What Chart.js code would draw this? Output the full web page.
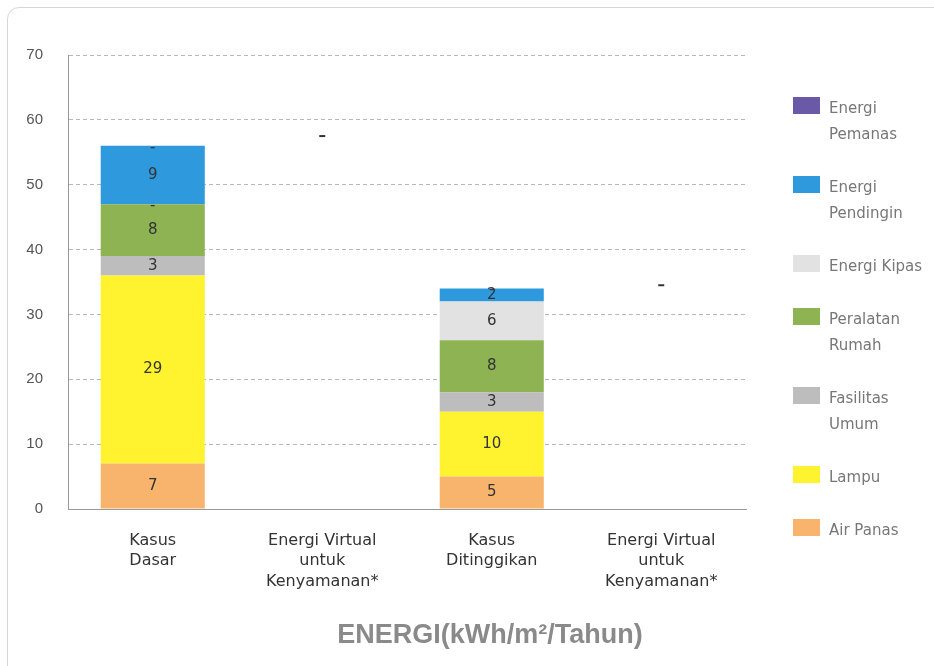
<!DOCTYPE html>
<html>
<head>
<meta charset="utf-8">
<script src="https://cdn.jsdelivr.net/npm/chart.js@4.4.1/dist/chart.umd.min.js"></script>
<style>
  html, body { margin: 0; padding: 0; background: #fff; }
  #wrap { position: relative; width: 934px; height: 666px; overflow: hidden; }
  #frame { position: absolute; left: 7px; top: 7px; width: 980px; height: 720px; border: 1px solid #d6d6d6; border-radius: 12px; }
  #chart-box { position: absolute; left: 0; top: 0; width: 934px; height: 666px; }
  #legend { position: absolute; left: 793px; top: 95px; font-family: "DejaVu Sans", sans-serif; font-size: 15px; color: #777; }
  .item { display: flex; align-items: flex-start; margin-bottom: 27px; }
  .swatch { width: 27px; height: 17px; margin-top: 2px; margin-right: 9px; flex: none; }
  .label { width: 105px; line-height: 26px; }
  #axis-title { position: absolute; left: 0; top: 618px; width: 980px; text-align: center;
    font-family: "Liberation Sans", Arial, sans-serif; font-weight: bold; font-size: 27px; line-height: 32px; color: #8a8a8a; }
</style>
</head>
<body>
<div id="wrap">
  <div id="frame"></div>
  <div id="chart-box"><canvas id="chart"></canvas></div>
  <div id="legend"></div>
  <div id="axis-title">ENERGI(kWh/m²/Tahun)</div>
</div>
<script>
const categories = [
    ['Kasus', 'Dasar'],
    ['Energi Virtual', 'untuk', 'Kenyamanan*'],
    ['Kasus', 'Ditinggikan'],
    ['Energi Virtual', 'untuk', 'Kenyamanan*']
];

// stacked from the bottom up
const seriesNames = ['Air Panas', 'Lampu', 'Fasilitas Umum', 'Peralatan Rumah', 'Energi Kipas', 'Energi Pendingin', 'Energi Pemanas'];
const seriesColors = ['#f8b36c', '#fff22e', '#bdbdbd', '#8db353', '#e2e2e2', '#2f99de', '#6a59a7'];

const airPanas = [7, null, 5, null];
const lampu = [29, null, 10, null];
const fasilitasUmum = [3, null, 3, null];
const peralatanRumah = [8, null, 8, null];
const energiKipas = [0, null, 6, null];
const energiPendingin = [9, null, 2, null];
const energiPemanas = [0, null, 0, null];

// the "-" marks above the virtual energy columns
const virtualMarks = [null, 57.5, null, 34.5];

const yMin = 0;
const yMax = 70;
const yStep = 10;

const seriesValues = [airPanas, lampu, fasilitasUmum, peralatanRumah, energiKipas, energiPendingin, energiPemanas];

// HTML legend, top to bottom is the reverse of the stack
const legendEl = document.getElementById('legend');
for (let i = seriesNames.length - 1; i >= 0; i--) {
    const item = document.createElement('div');
    item.className = 'item';
    const sw = document.createElement('div');
    sw.className = 'swatch';
    sw.style.background = seriesColors[i];
    const lab = document.createElement('div');
    lab.className = 'label';
    lab.textContent = seriesNames[i];
    item.appendChild(sw);
    item.appendChild(lab);
    legendEl.appendChild(item);
}

const segmentLabels = {
    id: 'segmentLabels',
    afterDatasetsDraw(chart) {
        const ctx = chart.ctx;
        ctx.save();
        ctx.font = '15px "DejaVu Sans", sans-serif';
        ctx.fillStyle = '#333';
        ctx.textAlign = 'center';
        ctx.textBaseline = 'middle';
        chart.data.datasets.forEach((ds, i) => {
            if (ds.type === 'line') return;
            chart.getDatasetMeta(i).data.forEach((bar, j) => {
                const v = ds.data[j];
                if (v == null) return;
                if (v === 0) ctx.fillText('-', bar.x, bar.y + 2);
                else ctx.fillText(String(v), bar.x, (bar.y + bar.base) / 2);
            });
        });
        ctx.restore();
    }
};

const datasets = seriesNames.map((name, i) => ({
    label: name,
    data: seriesValues[i],
    backgroundColor: seriesColors[i],
    borderWidth: 0,
    barPercentage: 0.614,
    categoryPercentage: 1,
    stack: 'energi'
}));

datasets.push({
    type: 'line',
    label: 'virtual',
    data: virtualMarks,
    showLine: false,
    pointStyle: 'line',
    pointRadius: 3,
    borderColor: '#333',
    borderWidth: 2,
    stack: 'marks'
});

new Chart(document.getElementById('chart'), {
    type: 'bar',
    data: { labels: categories, datasets: datasets },
    options: {
        responsive: true,
        maintainAspectRatio: false,
        animation: false,
        layout: { padding: { top: 55, right: 188, left: 0, bottom: 0 } },
        plugins: {
            legend: { display: false },
            tooltip: { enabled: false }
        },
        scales: {
            x: {
                stacked: true,
                grid: { display: false },
                border: { display: true, color: '#999' },
                ticks: {
                    color: '#333',
                    font: { family: '"DejaVu Sans", sans-serif', size: 16, lineHeight: 1.3 },
                    padding: 13,
                    maxRotation: 0,
                    autoSkip: false
                },
                afterFit: s => { s.height = 157; }
            },
            y: {
                stacked: true,
                min: yMin,
                max: yMax,
                ticks: {
                    stepSize: yStep,
                    color: '#555',
                    font: { family: '"Liberation Sans", Arial, sans-serif', size: 15 },
                    padding: 25
                },
                grid: { color: '#b8b8b8', drawTicks: false },
                border: { display: true, color: '#999', dash: [4, 3] },
                afterFit: s => { s.width = 68; }
            }
        }
    },
    plugins: [segmentLabels]
});
</script>
</body>
</html>
